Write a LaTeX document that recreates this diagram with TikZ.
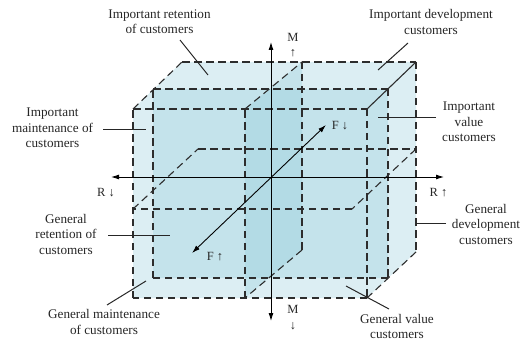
\documentclass[tikz,border=0pt]{standalone}
\usepackage{fontspec}
\setmainfont{Liberation Serif}
\usetikzlibrary{arrows.meta}
\definecolor{boxfill}{RGB}{140,200,216}
\definecolor{dashcol}{RGB}{45,45,45}
\begin{document}
\begin{tikzpicture}[x=1pt,y=-1pt,
  dline/.style={draw=dashcol,line width=1.1pt,dash pattern=on 7.5pt off 4.5pt},
  sline/.style={draw=dashcol,line width=1.1pt},
  layer/.style={fill=boxfill,fill opacity=0.3,draw=none},
  lead/.style={draw=black!85,line width=1pt},
  axis/.style={draw=black,line width=0.9pt,{Latex[length=8pt,width=5pt]}-{Latex[length=8pt,width=5pt]}},
  lbl/.style={font=\fontsize{13.2}{15.5}\selectfont,align=center,inner sep=0pt,text=black!85},
  albl/.style={font=\fontsize{12.5}{14}\selectfont,inner sep=0pt,text=black!85}]
\useasboundingbox (0,0) rectangle (522,342);
% outer box
\coordinate (A) at (133,109); \coordinate (B) at (367,109);
\coordinate (C) at (367,298); \coordinate (D) at (133,298);
\coordinate (E) at (182,62);  \coordinate (F) at (416,62);
\coordinate (G) at (416,252);
% mid-depth plane
\coordinate (Q1) at (153,89);  \coordinate (Q2) at (388,89);
\coordinate (Q3) at (388,278); \coordinate (Q4) at (153,278);
% middle vertical plane
\coordinate (P1) at (245,109); \coordinate (P2) at (302,62);
\coordinate (P3) at (302,250); \coordinate (P4) at (245,298);
% horizontal plane
\coordinate (H1) at (133,209); \coordinate (H2) at (198,149);
\coordinate (H3) at (416,149); \coordinate (H4) at (352,209);
% fills
\path[layer] (A) -- (E) -- (F) -- (G) -- (C) -- (D) -- cycle;
\path[layer] (Q1) -- (Q2) -- (Q3) -- (Q4) -- cycle;
\path[layer] (P1) -- (P2) -- (P3) -- (P4) -- cycle;
% dashed edges
\draw[dline] (A) -- (B); \draw[dline] (B) -- (C);
\draw[dline] (C) -- (D); \draw[dline] (D) -- (A);
\draw[dline] (A) -- (E); \draw[dline] (E) -- (F);
\draw[dline] (F) -- (G); \draw[dline] (G) -- (C);
\draw[sline] (B) -- (F);
\draw[dline] (Q1) -- (Q2); \draw[dline] (Q2) -- (Q3);
\draw[dline] (Q3) -- (Q4); \draw[dline] (Q4) -- (Q1);
\draw[dline] (P1) -- (P2); \draw[dline] (P2) -- (P3);
\draw[dline] (P3) -- (P4); \draw[dline] (P4) -- (P1);
\draw[dline] (H1) -- (H2); \draw[dline] (H2) -- (H3);
\draw[dline] (H3) -- (H4); \draw[dline] (H4) -- (H1);
% axes
\coordinate (Mt) at (271,42);  \coordinate (Mb) at (271,321);
\coordinate (Rl) at (111,177); \coordinate (Rr) at (444,177);
\coordinate (Fl) at (192,253); \coordinate (Fr) at (326,125);
\draw[axis] (Mb) -- (Mt);
\draw[axis] (Rl) -- (Rr);
\draw[axis] (Fl) -- (Fr);
\node[albl] (m1) at (293,37) {M};
\node[albl] (m1a) at (293,53) {↑};
\node[albl] (m2) at (293,309.5) {M};
\node[albl] (m2a) at (293,326) {↓};
\node[albl] (r1) at (106,193) {R ↓};
\node[albl] (r2) at (438.5,193) {R ↑};
\node[albl] (f1) at (340,126) {F ↓};
\node[albl] (f2) at (215,257) {F ↑};
% labels
\node[lbl] (L1) at (159.5,21.5) {Important retention\\of customers};
\node[lbl] (L2) at (431,22) {Important development\\customers};
\node[lbl] (L3) at (52.5,128) {Important\\maintenance of\\customers};
\node[lbl] (L4) at (469,122) {Important\\value\\customers};
\node[lbl] (L5) at (66,234) {General\\retention of\\customers};
\node[lbl] (L6) at (486,224) {General\\development\\customers};
\node[lbl] (L7) at (104,322) {General maintenance\\of customers};
\node[lbl] (L8) at (397,326.5) {General value\\customers};
% leaders
\coordinate (l1a) at (180,40);  \coordinate (l1b) at (208,75);
\coordinate (l2a) at (408,43);  \coordinate (l2b) at (378,70);
\coordinate (l3a) at (103,130); \coordinate (l3b) at (146,130);
\coordinate (l4a) at (436,118); \coordinate (l4b) at (378,118);
\coordinate (l5a) at (108,235); \coordinate (l5b) at (170,235);
\coordinate (l6a) at (446,223); \coordinate (l6b) at (416,223);
\coordinate (l7a) at (107,305); \coordinate (l7b) at (146,281);
\coordinate (l8a) at (389,309); \coordinate (l8b) at (346,286);
\draw[lead] (l1a) -- (l1b);
\draw[lead] (l2a) -- (l2b);
\draw[lead] (l3a) -- (l3b);
\draw[lead] (l4a) -- (l4b);
\draw[lead] (l5a) -- (l5b);
\draw[lead] (l6a) -- (l6b);
\draw[lead] (l7a) -- (l7b);
\draw[lead] (l8a) -- (l8b);
\end{tikzpicture}
\end{document}
